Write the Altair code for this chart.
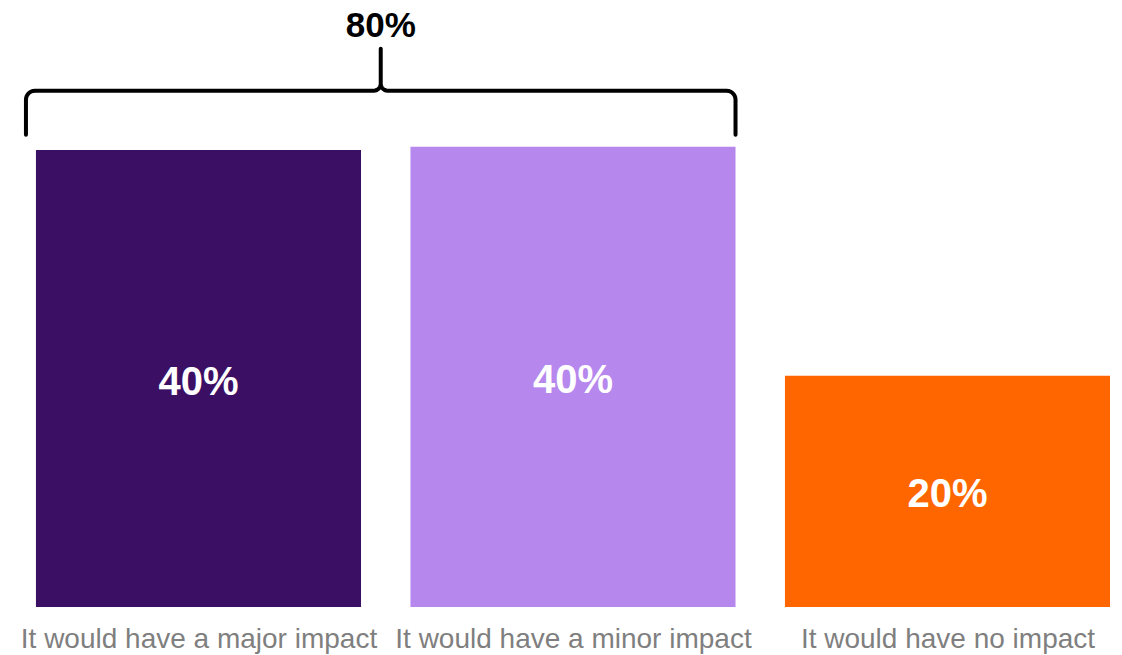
import altair as alt
import numpy as np
import pandas as pd

# ---- data ----
categories = ["It would have a major impact", "It would have a minor impact", "It would have no impact"]
values = [39.9, 40.2, 20.2]
value_labels = ["40%", "40%", "20%"]
bar_colors = ["#3B0F63", "#B687ED", "#FF6600"]
bracket_span = [0, 1]          # categories grouped by the brace
bracket_label = ["80%"]

# ---- layout helpers (scales) ----
HALF = 0.434                     # half bar width in category units
X_DOMAIN = [-0.530, 2.466]
Y_DOMAIN = [0, 53.01]
W, H = 1122, 607
px_x = W / (X_DOMAIN[1] - X_DOMAIN[0])   # pixels per x unit
px_y = H / (Y_DOMAIN[1] - Y_DOMAIN[0])   # pixels per y unit

bars = pd.DataFrame({
    "idx": list(range(len(categories))),
    "cat": categories,
    "value": values,
    "label": value_labels,
    "color": bar_colors,
})
bars["x0"] = bars["idx"] - HALF
bars["x1"] = bars["idx"] + HALF
bars["mid"] = bars["value"] / 2
bars["base"] = 0.0

# ---- brace built from bar extents ----
left = bracket_span[0] - HALF - 10 / px_x
right = bracket_span[1] + HALF
top_val = max(values[bracket_span[0]:bracket_span[1] + 1])
y_end = top_val + 12 / px_y
y_bar = top_val + 56 / px_y
y_peak = top_val + 98 / px_y
center = (left + right) / 2

def arc(cx, cy, r, a0, a1, n=8):
    t = np.linspace(a0, a1, n)
    return [(cx + r * np.cos(a) / px_x, cy + r * np.sin(a) / px_y) for a in t]

r1 = 9
r2 = 7
pts = [(left, y_end)]
pts += arc(left + r1 / px_x, y_bar - r1 / px_y, r1, np.pi, np.pi / 2)
pts += arc(center - r2 / px_x, y_bar + r2 / px_y, r2, -np.pi / 2, 0)
pts += [(center, y_peak)]
pts += arc(center + r2 / px_x, y_bar + r2 / px_y, r2, np.pi, 3 * np.pi / 2)
pts += arc(right - r1 / px_x, y_bar - r1 / px_y, r1, np.pi / 2, 0)
pts += [(right, y_end)]
brace = pd.DataFrame({"bx": [p[0] for p in pts], "by": [p[1] for p in pts],
                      "order": list(range(len(pts)))})
brace_text = pd.DataFrame({"tx": [center], "ty": [y_peak + 23 / px_y], "text": bracket_label})

xscale = alt.Scale(domain=X_DOMAIN, nice=False, zero=False)
yscale = alt.Scale(domain=Y_DOMAIN, nice=False)

label_arr = "[" + ",".join("'" + c + "'" for c in categories) + "]"

bar_layer = alt.Chart(bars).mark_rect().encode(
    x=alt.X("x0:Q", scale=xscale,
            axis=alt.Axis(values=list(range(len(categories))), labelExpr=label_arr + "[datum.value]",
                          title=None, ticks=False, domain=False, grid=False,
                          labelFont="Liberation Sans", labelFontSize=28, labelColor="#7F7F7F",
                          labelPadding=18, labelOverlap=False, labelFlush=False, labelLimit=0)),
    x2="x1:Q",
    y=alt.Y("value:Q", scale=yscale, axis=None),
    y2="base:Q",
    color=alt.Color("color:N", scale=None),
)

text_layer = alt.Chart(bars).mark_text(
    font="Liberation Sans", fontSize=40, fontWeight="bold", color="white", baseline="middle", dy=4
).encode(x=alt.X("idx:Q", scale=xscale), y=alt.Y("mid:Q", scale=yscale), text="label:N")

brace_layer = alt.Chart(brace).mark_line(color="black", strokeWidth=4, strokeCap="round",
                                         strokeJoin="round").encode(
    x=alt.X("bx:Q", scale=xscale), y=alt.Y("by:Q", scale=yscale), order="order:Q")

brace_text_layer = alt.Chart(brace_text).mark_text(
    font="Liberation Sans", fontSize=35, fontWeight="bold", color="black", baseline="middle"
).encode(x=alt.X("tx:Q", scale=xscale), y=alt.Y("ty:Q", scale=yscale), text="text:N")

chart = alt.layer(bar_layer, text_layer, brace_layer, brace_text_layer).properties(
    width=W, height=H, autosize=alt.AutoSizeParams(type="none"),
    padding={"left": 0, "top": 0, "right": 0, "bottom": 48}
).configure_view(stroke=None)

chart.save("out.html", embed_options={"renderer": "svg", "actions": False})
